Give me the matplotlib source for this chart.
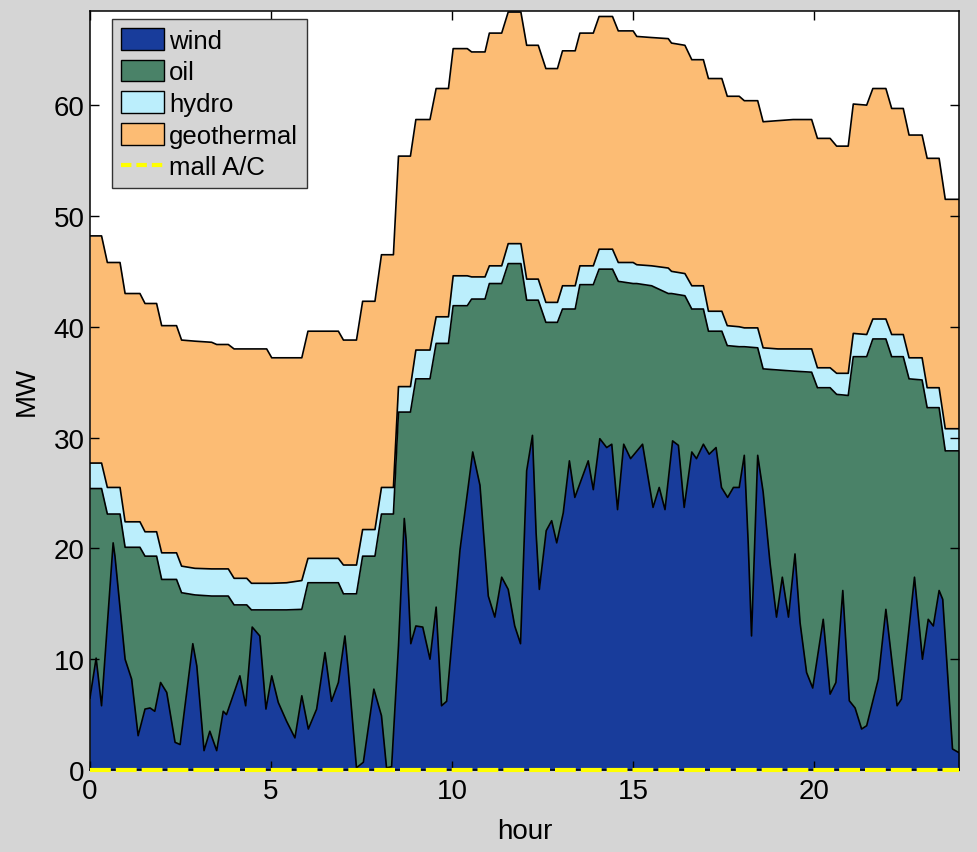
import matplotlib
matplotlib.use("Agg")
import matplotlib.pyplot as plt
from matplotlib.patches import Patch
from matplotlib.lines import Line2D

plt.rcParams["font.family"] = ["Liberation Sans", "DejaVu Sans"]
plt.rcParams["font.size"] = 20

# breakpoints shared by the slow (dispatch) series, hours
t_step = [0.0, 0.32, 0.48, 0.83, 0.97, 1.38, 1.52, 1.84, 1.98, 2.39,
          2.53, 2.9, 3.36, 3.5, 3.82, 3.98, 4.33, 4.46, 4.88, 5.02,
          5.43, 5.85, 6.02, 6.86, 7.0, 7.36, 7.53, 7.87, 8.05, 8.38,
          8.52, 8.85, 9.0, 9.39, 9.56, 9.9, 10.03, 10.42, 10.54, 10.91,
          11.03, 11.37, 11.55, 11.9, 12.06, 12.38, 12.59, 12.91, 13.05, 13.4,
          13.53, 13.9, 14.06, 14.43, 14.59, 15.0, 15.1, 15.51, 15.97, 16.06,
          16.43, 16.62, 16.94, 17.08, 17.45, 17.6, 17.93, 18.07, 18.44, 18.59,
          19.0, 19.42, 19.93, 20.09, 20.44, 20.62, 20.94, 21.08, 21.45, 21.62,
          21.98, 22.14, 22.46, 22.62, 22.98, 23.12, 23.45, 23.62, 24.0]

# cumulative stack tops (MW): wind+oil, +hydro, +geothermal
oil_top = [25.4, 25.4, 23.1, 23.1, 20.1, 20.1, 19.3, 19.3, 17.2, 17.2,
           16.0, 15.8, 15.7, 15.7, 15.7, 14.9, 14.9, 14.45, 14.45, 14.45,
           14.45, 14.5, 16.9, 16.9, 15.9, 15.9, 19.3, 19.3, 23.1, 23.1,
           32.3, 32.3, 35.3, 35.3, 38.5, 38.5, 41.9, 41.9, 42.5, 42.5,
           43.9, 43.9, 45.7, 45.7, 42.4, 42.4, 40.4, 40.4, 41.6, 41.6,
           43.8, 43.8, 45.2, 45.2, 44.1, 43.9, 43.9, 43.7, 43.0, 43.0,
           42.8, 41.6, 41.6, 39.6, 39.6, 38.3, 38.2, 38.2, 38.1, 36.2,
           36.1, 36.0, 35.9, 34.5, 34.5, 33.9, 33.8, 37.3, 37.3, 38.9,
           38.9, 37.3, 37.3, 35.3, 35.2, 32.7, 32.7, 28.8, 28.8]

hydro_top = [27.7, 27.7, 25.5, 25.5, 22.4, 22.4, 21.5, 21.5, 19.6, 19.6,
             18.4, 18.2, 18.15, 18.15, 18.15, 17.3, 17.3, 16.85, 16.85, 16.85,
             16.9, 17.1, 19.1, 19.1, 18.5, 18.5, 21.7, 21.7, 25.5, 25.5,
             34.6, 34.6, 37.9, 37.9, 40.9, 40.9, 44.6, 44.6, 44.5, 44.5,
             45.5, 45.5, 47.5, 47.5, 44.3, 44.3, 42.2, 42.2, 43.7, 43.7,
             45.5, 45.5, 47.0, 47.0, 45.8, 45.8, 45.6, 45.5, 45.3, 45.0,
             44.8, 43.7, 43.7, 41.4, 41.4, 40.1, 40.0, 39.9, 39.9, 38.1,
             38.0, 38.0, 38.0, 36.3, 36.3, 35.8, 35.8, 39.4, 39.3, 40.7,
             40.7, 39.3, 39.3, 37.2, 37.2, 34.5, 34.5, 30.8, 30.8]

geo_top = [48.2, 48.2, 45.8, 45.8, 43.0, 43.0, 42.1, 42.1, 40.1, 40.1,
           38.8, 38.7, 38.6, 38.4, 38.4, 38.0, 38.0, 38.0, 38.0, 37.2,
           37.2, 37.2, 39.6, 39.6, 38.8, 38.8, 42.3, 42.3, 46.5, 46.5,
           55.4, 55.4, 58.7, 58.7, 61.5, 61.5, 65.1, 65.1, 64.8, 64.8,
           66.5, 66.5, 68.4, 68.4, 65.4, 65.4, 63.3, 63.3, 64.9, 64.9,
           66.5, 66.5, 68.0, 68.0, 66.7, 66.7, 66.2, 66.1, 66.0, 65.6,
           65.4, 64.1, 64.1, 62.4, 62.4, 60.8, 60.8, 60.4, 60.4, 58.5,
           58.6, 58.7, 58.7, 57.0, 57.0, 56.3, 56.3, 60.1, 60.0, 61.5,
           61.5, 59.7, 59.7, 57.3, 57.3, 55.2, 55.2, 51.5, 51.5]

# wind output, irregular sample points
t_wind = [0.0, 0.17, 0.32, 0.64, 0.69, 0.97, 1.15, 1.33, 1.52, 1.66,
          1.79, 1.95, 2.12, 2.35, 2.49, 2.84, 2.95, 3.15, 3.31, 3.5,
          3.68, 3.77, 4.14, 4.3, 4.48, 4.69, 4.86, 5.02, 5.2, 5.43,
          5.66, 5.85, 6.03, 6.26, 6.49, 6.67, 6.86, 7.04, 7.13, 7.36,
          7.55, 7.84, 8.05, 8.19, 8.33, 8.52, 8.68, 8.73, 8.86, 9.0,
          9.19, 9.39, 9.56, 9.71, 9.85, 10.22, 10.57, 10.77, 11.0, 11.18,
          11.37, 11.55, 11.73, 11.89, 12.06, 12.22, 12.32, 12.41, 12.6, 12.75,
          12.89, 13.07, 13.24, 13.39, 13.76, 13.9, 14.08, 14.27, 14.41, 14.57,
          14.74, 14.93, 15.26, 15.55, 15.72, 15.88, 16.09, 16.25, 16.41, 16.62,
          16.75, 16.94, 17.1, 17.29, 17.44, 17.61, 17.77, 17.93, 18.07, 18.18,
          18.27, 18.44, 18.59, 18.78, 18.96, 19.12, 19.29, 19.47, 19.61, 19.79,
          19.96, 20.25, 20.44, 20.6, 20.79, 20.97, 21.13, 21.31, 21.45, 21.77,
          21.98, 22.29, 22.41, 22.77, 22.99, 23.15, 23.29, 23.45, 23.55, 23.82,
          23.98, 24.0]
wind = [6.5, 10.1, 5.8, 20.5, 19.3, 10.0, 8.2, 3.1, 5.5, 5.6,
        5.3, 7.9, 7.0, 2.5, 2.3, 11.4, 9.4, 1.75, 3.5, 1.75,
        5.3, 5.0, 8.5, 5.8, 12.9, 12.1, 5.5, 8.5, 6.1, 4.4,
        2.9, 6.7, 3.7, 5.5, 10.6, 6.2, 7.9, 12.1, 9.1, 0.2,
        0.7, 7.3, 4.9, 0.2, 0.3, 11.2, 22.7, 20.8, 11.4, 13.0,
        12.9, 10.0, 14.7, 5.8, 6.2, 19.9, 28.7, 25.7, 15.7, 13.8,
        17.4, 16.3, 13.0, 11.4, 27.0, 30.2, 21.4, 16.3, 21.6, 22.5,
        20.5, 23.2, 27.9, 24.6, 27.9, 25.3, 29.9, 29.1, 29.4, 23.5,
        29.4, 28.1, 29.4, 23.7, 25.5, 23.5, 29.7, 29.3, 23.7, 28.7,
        28.1, 29.4, 28.5, 29.1, 25.5, 24.6, 25.5, 25.5, 28.4, 20.3,
        12.1, 28.4, 25.1, 18.7, 13.8, 17.4, 13.8, 19.5, 13.3, 8.8,
        7.4, 13.6, 6.85, 7.9, 16.2, 6.25, 5.6, 3.7, 4.0, 8.2,
        14.5, 5.8, 6.4, 17.4, 10.0, 13.6, 13.0, 16.2, 15.4, 1.9,
        1.6, 1.6]

# mall air conditioning load (MW)
t_mall = [0.0, 24.0]
mall_ac = [0.0, 0.0]

labels = ["wind", "oil", "hydro", "geothermal", "mall A/C"]
colors = ["#183c9b", "#4a8268", "#bbeefc", "#fcbc74"]
bg = "#d5d5d5"

fig = plt.figure(figsize=(9.78, 8.53), dpi=100, facecolor=bg)
ax = fig.add_axes([0.092, 0.0961, 0.8886, 0.8899])

# stacked areas: paint each cumulative top from zero, top layer first
ax.fill_between(t_step, 0, geo_top, color=colors[3], lw=0)
ax.fill_between(t_step, 0, hydro_top, color=colors[2], lw=0)
ax.fill_between(t_step, 0, oil_top, color=colors[1], lw=0)
ax.fill_between(t_wind, 0, wind, color=colors[0], lw=0)
for tt, yy in [(t_step, geo_top), (t_step, hydro_top), (t_step, oil_top), (t_wind, wind)]:
    ax.plot(tt, yy, color="black", lw=1.2)

ax.plot(t_mall, mall_ac, color="yellow", lw=3, dashes=(5, 1.2),
        clip_on=False, zorder=5)

ax.set_xlim(0, 24)
ax.set_ylim(0, 68.5)
ax.set_xticks([0, 5, 10, 15, 20])
ax.set_yticks([0, 10, 20, 30, 40, 50, 60])
ax.tick_params(direction="in", top=True, right=True, length=6.5, width=1)
ax.tick_params(axis="x", pad=6)
ax.tick_params(axis="y", pad=4)
for s in ax.spines.values():
    s.set_linewidth(1.1)
ax.set_xlabel("hour", labelpad=10)
ax.set_ylabel("MW", labelpad=10)

handles = [Patch(facecolor=c, edgecolor="black", lw=1) for c in colors]
handles.append(Line2D([], [], color="yellow", lw=3, dashes=(2.5, 1.2)))
leg = ax.legend(handles, labels, loc="upper left", bbox_to_anchor=(0.0253, 0.9895),
                borderaxespad=0, fancybox=False, framealpha=1, facecolor=bg,
                edgecolor="#333333", handlelength=1.67, handleheight=0.93,
                handletextpad=0.2, labelspacing=0.27, borderpad=0.35, fontsize=18.5)
leg.get_frame().set_linewidth(1)

plt.savefig("out.png", dpi=100, facecolor=bg)
plt.close()
